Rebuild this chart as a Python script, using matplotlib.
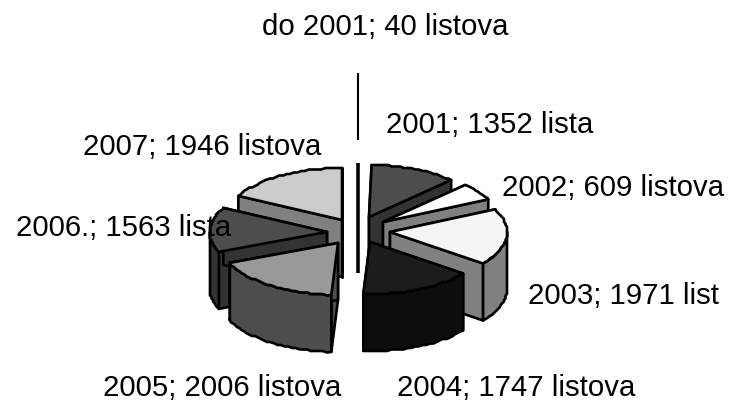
# exploded 3D pie of sheet counts per year
import matplotlib
matplotlib.use('Agg')
import matplotlib.pyplot as plt
from matplotlib.patches import Polygon
import numpy as np

plt.rcParams['font.family'] = ['Liberation Sans', 'DejaVu Sans']

# data
years = ['do 2001', '2001', '2002', '2003', '2004', '2005', '2006.', '2007']
values = [40, 1352, 609, 1971, 1747, 2006, 1563, 1946]
units = ['listova', 'lista', 'listova', 'list', 'listova', 'listova', 'lista', 'listova']

# style, one entry per slice
top_colors = ['#000000', '#4d4d4d', '#ffffff', '#f5f5f5', '#1c1c1c', '#999999', '#4d4d4d', '#cccccc']
side_colors = ['#000000', '#333333', '#808080', '#808080', '#0d0d0d', '#4d4d4d', '#333333', '#808080']
apex_x = [358, 369, 383, 390, 370, 338, 327, 342]
apex_y = [216, 217, 222, 232, 242, 243, 232, 220]
label_x = [262, 386, 502, 528, 397, 103, 16, 83]
label_y = [27, 125, 188, 296, 388, 388, 228, 147]
draw_order = [1, 7, 2, 6, 3, 5, 4]

rx = 117
ry = 52
depth = 57
edge_w = 1.9


def rim(cx, cy, a0, a1):
    # outer edge of a slice, stepped like the low res original
    t = np.radians(np.arange(a0, a1, 2.0))
    t = np.append(t, np.radians(a1))
    x = cx + rx * np.sin(t)
    y = cy - ry * np.cos(t)
    x[1:-1] = np.round(x[1:-1] / 1.5) * 1.5
    y[1:-1] = np.round(y[1:-1] / 1.5) * 1.5
    return np.column_stack([x, y])


fig = plt.figure(figsize=(7.31, 4.04), dpi=100)
ax = fig.add_axes([0, 0, 1, 1])
ax.set_xlim(0, 731)
ax.set_ylim(404, 0)
ax.axis('off')

ends = np.cumsum(values) / np.sum(values) * 360
starts = np.concatenate([[0], ends[:-1]])

# the very thin first slice shows up as a broken vertical line
ax.plot([apex_x[0], apex_x[0]], [73, 140], color='black', lw=1.5, solid_capstyle='butt')
ax.plot([apex_x[0], apex_x[0]], [163, 273], color='black', lw=2.6, solid_capstyle='butt')

for i in draw_order:
    cx, cy = apex_x[i], apex_y[i]
    a0, a1 = starts[i], ends[i]
    pts = rim(cx, cy, a0, a1)
    apex = np.array([cx, cy])
    down = np.array([0, depth])

    # cut faces
    for p in (pts[0], pts[-1]):
        face = np.array([apex, p, p + down, apex + down])
        ax.add_patch(Polygon(face, closed=True, fc=side_colors[i], ec='black', lw=edge_w, joinstyle='round'))

    # outer wall, only the part facing the viewer
    lo, hi = max(a0, 90), min(a1, 270)
    if hi > lo:
        arc = rim(cx, cy, lo, hi)
        wall = np.vstack([arc, arc[::-1] + down])
        ax.add_patch(Polygon(wall, closed=True, fc=side_colors[i], ec='black', lw=edge_w, joinstyle='round'))

    # top
    top = np.vstack([apex, pts])
    ax.add_patch(Polygon(top, closed=True, fc=top_colors[i], ec='black', lw=edge_w, joinstyle='round'))

for i in range(len(years)):
    txt = f'{years[i]}; {values[i]} {units[i]}'
    ax.text(label_x[i], label_y[i], txt, fontsize=21.2, color='black', ha='left', va='center', zorder=5)

fig.savefig('out.png', dpi=100)
